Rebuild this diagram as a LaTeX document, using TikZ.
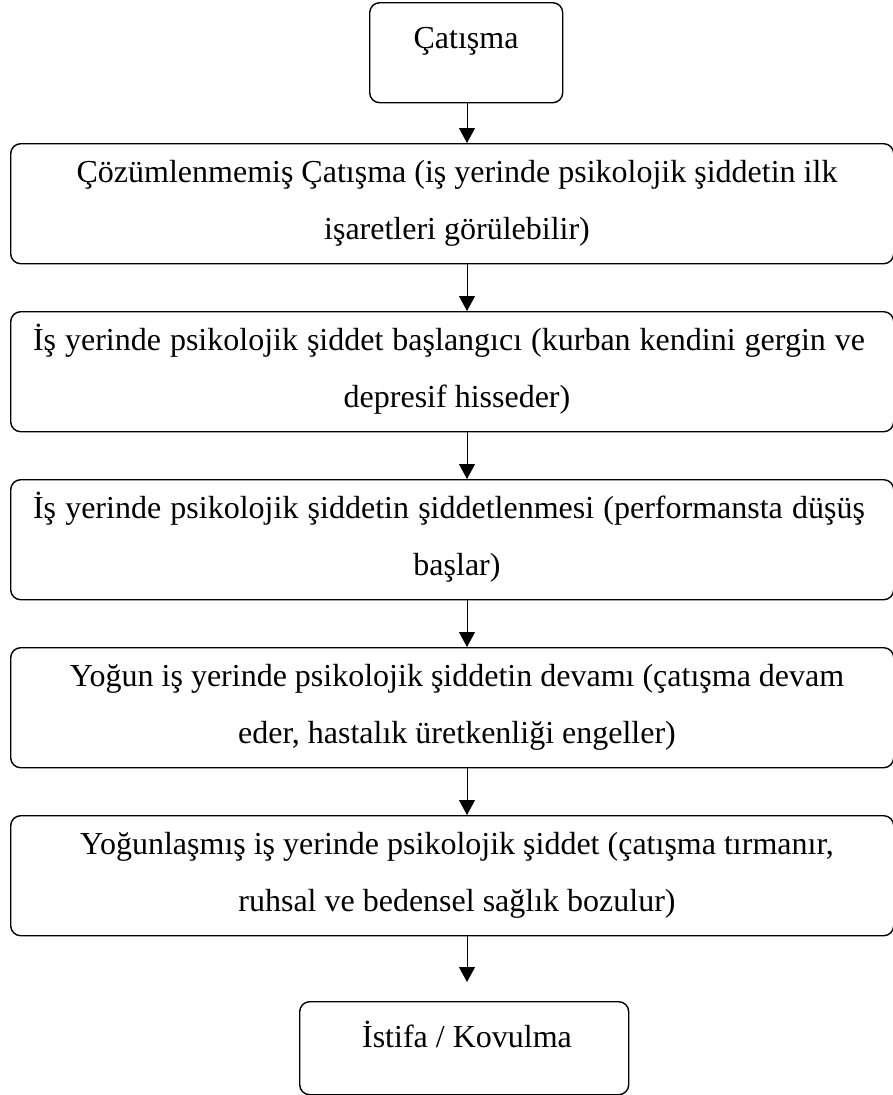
\documentclass[tikz,border=0pt]{standalone}
\usepackage{fontspec}
\setmainfont{Liberation Serif}
\usetikzlibrary{arrows.meta}
\tikzset{
  stepbox/.style={draw=black, line width=1.4pt, rounded corners=10pt, inner sep=0pt, anchor=north west},
  wide/.style={stepbox, minimum width=883pt, minimum height=120pt},
  lbl/.style={inner sep=0pt, anchor=base, font=\fontsize{32}{38}\selectfont},
  arr/.style={draw=black, line width=1pt, -{Triangle[width=16pt,length=15pt]}}
}
\begin{document}
\begin{tikzpicture}[x=1pt,y=-1pt]
\useasboundingbox (0,0) rectangle (893,1095);
\clip (0,0) rectangle (893,1095);
% top box
\node[stepbox, minimum width=193pt, minimum height=100pt] (top) at (369,2) {};
\node[lbl] (ttop) at (466,48) {Çatışma};
% boxes
\node[wide] (b1) at (10,143) {};
\node[lbl] (t1a) at (457,182) {Çözümlenmemiş Çatışma (iş yerinde psikolojik şiddetin ilk};
\node[lbl] (t1b) at (457,239) {işaretleri görülebilir)};
\node[wide] (b2) at (10,311) {};
\node[lbl] (t2a) at (449,350) {\makebox[832pt][s]{İş yerinde psikolojik şiddet başlangıcı (kurban kendini gergin ve}};
\node[lbl] (t2b) at (457,407) {depresif hisseder)};
\node[wide] (b3) at (10,479) {};
\node[lbl] (t3a) at (449,518) {\makebox[832pt][s]{İş yerinde psikolojik şiddetin şiddetlenmesi (performansta düşüş}};
\node[lbl] (t3b) at (457,575) {başlar)};
\node[wide] (b4) at (10,647) {};
\node[lbl] (t4a) at (457,686) {Yoğun iş yerinde psikolojik şiddetin devamı (çatışma devam};
\node[lbl] (t4b) at (457,743) {eder, hastalık üretkenliği engeller)};
\node[wide] (b5) at (10,815) {};
\node[lbl] (t5a) at (457,854) {Yoğunlaşmış iş yerinde psikolojik şiddet (çatışma tırmanır,};
\node[lbl] (t5b) at (457,911) {ruhsal ve bedensel sağlık bozulur)};
% last box
\node[stepbox, minimum width=329pt, minimum height=93pt] (last) at (299,1001) {};
\node[lbl] (tlast) at (467,1047) {İstifa / Kovulma};
% arrows
\coordinate (ax) at (467,0);
\coordinate (lend) at (467,982);
\draw[arr] (top.south -| ax) -- (b1.north -| ax);
\draw[arr] (b1.south -| ax) -- (b2.north -| ax);
\draw[arr] (b2.south -| ax) -- (b3.north -| ax);
\draw[arr] (b3.south -| ax) -- (b4.north -| ax);
\draw[arr] (b4.south -| ax) -- (b5.north -| ax);
\draw[arr] (b5.south -| ax) -- (lend);
\end{tikzpicture}
\end{document}
